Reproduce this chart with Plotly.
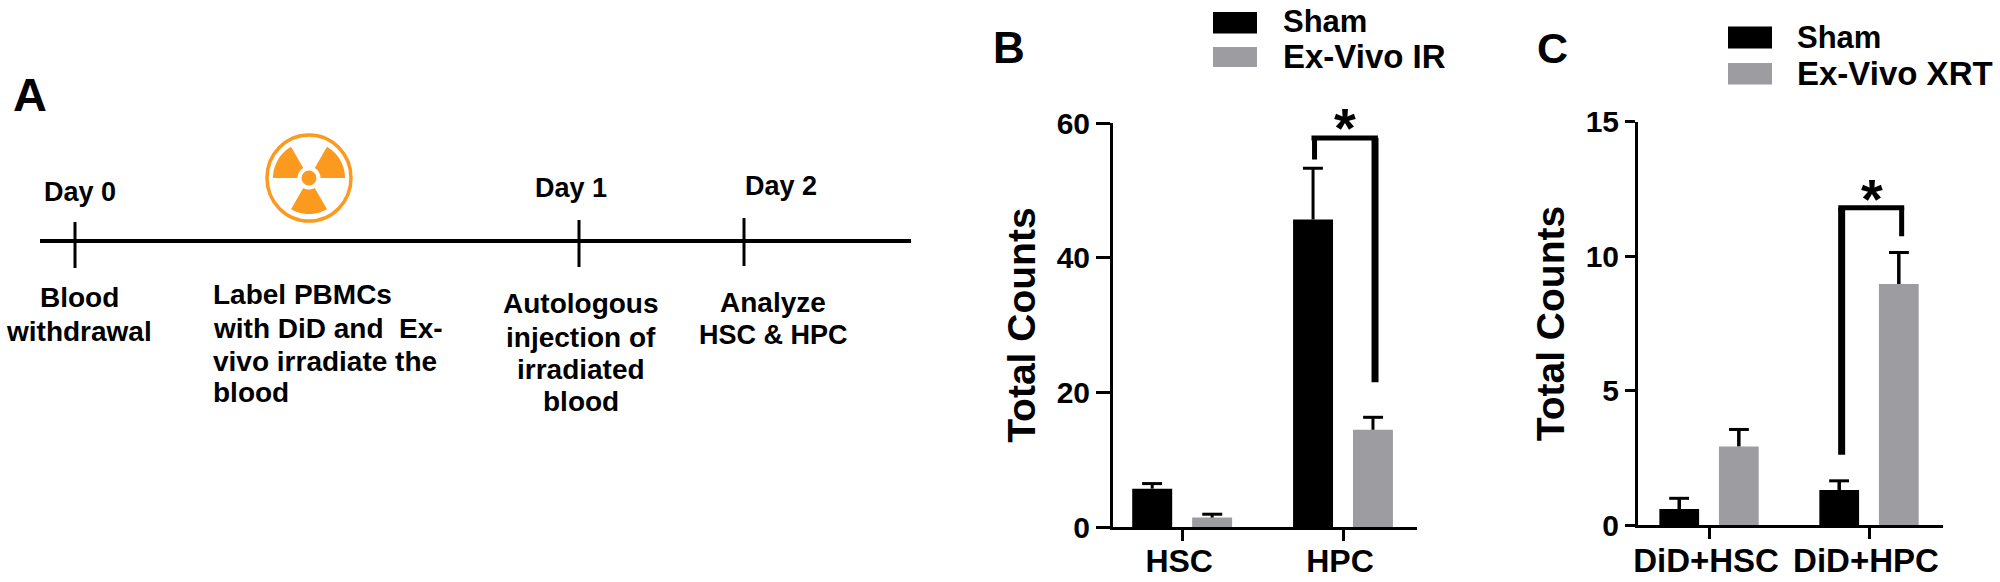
import numpy as np
import plotly.graph_objects as go

W, H = 2000, 582
FONT = "Liberation Sans"
BLACK = "#000000"
GRAY = "#9d9da1"
ORANGE = "#fb9a1f"

# ---- panel B data
b_categories = ["HSC", "HPC"]
b_sham = [5.7, 45.7]
b_sham_err = [0.75, 7.6]
b_ir = [1.4, 14.45]
b_ir_err = [0.5, 1.85]
b_ticks = [0, 20, 40, 60]

# ---- panel C data
c_categories = ["DiD+HSC", "DiD+HPC"]
c_sham = [0.6, 1.31]
c_sham_err = [0.4, 0.34]
c_xrt = [2.93, 8.97]
c_xrt_err = [0.63, 1.17]
c_ticks = [0, 5, 10, 15]

# ---- panel A timeline text: (text, x, y, anchor, size)
timeline_labels = [
    ("Day 0", 80, 192, "center", 27), ("Day 1", 571, 188, "center", 27), ("Day 2", 781, 186, "center", 27),
    ("Blood", 79, 297, "center", 28), ("withdrawal", 79, 331, "center", 28),
    ("Label PBMCs", 211, 294, "left", 28), ("with DiD and  Ex-", 211, 328, "left", 28),
    ("vivo irradiate the", 211, 361, "left", 28), ("blood", 211, 392, "left", 28),
    ("Autologous", 581, 303, "center", 28), ("injection of", 581, 337, "center", 28),
    ("irradiated", 581, 369, "center", 28), ("blood", 581, 401, "center", 28),
    ("Analyze", 773, 302, "center", 28), ("HSC &amp; HPC", 773, 335, "center", 27),
]
timeline_ticks = [(75, 222, 268), (579, 220, 267), (744, 218, 266)]


def px(x):
    return x / W


def py(y):
    return 1 - y / H


fig = go.Figure()
shapes, annos = [], []


def add_bars(cats, name1, v1, e1, name2, v2, e2, xa, ya, thick):
    offset = 0.187
    cap = 0.062
    for name, vals, errs, col, side in ((name1, v1, e1, BLACK, -1), (name2, v2, e2, GRAY, 1)):
        fig.add_trace(go.Bar(
            x=cats, y=vals, name=name, marker=dict(color=col, line=dict(width=0)),
            error_y=dict(type="data", symmetric=False, array=errs, arrayminus=[0, 0],
                         color=BLACK, thickness=thick, width=0),
            xaxis=xa, yaxis=ya, showlegend=False,
        ))
        for i, (v, e) in enumerate(zip(vals, errs)):
            xc = i + side * offset
            shapes.append(dict(type="line", xref=xa, yref=ya, x0=xc - cap, x1=xc + cap,
                               y0=v + e, y1=v + e, line=dict(color=BLACK, width=3)))


add_bars(b_categories, "Sham", b_sham, b_sham_err, "Ex-Vivo IR", b_ir, b_ir_err, "x", "y", 3)
add_bars(c_categories, "Sham", c_sham, c_sham_err, "Ex-Vivo XRT", c_xrt, c_xrt_err, "x2", "y2", 3.5)


def text(t, x, y, size, anchor="center", angle=0):
    annos.append(dict(text=t, x=px(x), y=py(y), xref="paper", yref="paper", showarrow=False,
                      xanchor=anchor, yanchor="middle", textangle=angle,
                      font=dict(family=FONT, size=size, color=BLACK, weight=700)))


def rect(x0, y0, x1, y1, col):
    shapes.append(dict(type="rect", xref="paper", yref="paper", x0=px(x0), x1=px(x1),
                       y0=py(y0), y1=py(y1), fillcolor=col, line=dict(width=0)))


def pline(x0, y0, x1, y1, w, col=BLACK):
    shapes.append(dict(type="line", xref="paper", yref="paper", x0=px(x0), x1=px(x1),
                       y0=py(y0), y1=py(y1), line=dict(color=col, width=w)))


def bracket(xa, ya, xl, xr, xl_edge, xr_edge, top, lb, rb, wl, wr, wt):
    ref = dict(xref=xa, yref=ya, type="line")
    shapes.append(dict(**ref, x0=xl, x1=xl, y0=top, y1=lb, line=dict(color=BLACK, width=wl)))
    shapes.append(dict(**ref, x0=xr, x1=xr, y0=top, y1=rb, line=dict(color=BLACK, width=wr)))
    shapes.append(dict(**ref, x0=xl_edge, x1=xr_edge, y0=top, y1=top, line=dict(color=BLACK, width=wt)))


bracket("x", "y", 0.823, 1.199, 0.804, 1.217, 57.8, 54.6, 21.5, 5, 7, 5)
bracket("x2", "y2", 0.829, 1.204, 0.808, 1.22, 11.8, 2.62, 10.74, 7, 5, 5)

# panel letters
text("A", 30, 95, 47)
text("B", 1009, 47.5, 44)
text("C", 1552, 47.5, 43)

# stars
text("*", 1345, 127, 56)
text("*", 1872, 198, 56)

# legends
rect(1213, 12, 1257, 33.5, BLACK)
rect(1213, 47, 1257, 67, GRAY)
text("Sham", 1281, 22, 31, "left")
text("Ex-Vivo IR", 1281, 56.5, 33, "left")
rect(1728, 26.5, 1772, 48.5, BLACK)
rect(1728, 63, 1772, 84.5, GRAY)
text("Sham", 1795, 37, 31, "left")
text("Ex-Vivo XRT", 1795, 73, 33, "left")

# timeline
pline(40, 241, 911, 241, 4)
for tx, t0, t1 in timeline_ticks:
    pline(tx, t0, tx, t1, 3)
for t, x, y, anchor, size in timeline_labels:
    text(t, x, y, size, anchor)

# radiation icon
cx, cy = 309, 178
shapes.append(dict(type="circle", xref="paper", yref="paper", x0=px(cx - 42), x1=px(cx + 42),
                   y0=py(cy - 43), y1=py(cy + 43), line=dict(color=ORANGE, width=3.5),
                   fillcolor="white"))
shapes.append(dict(type="circle", xref="paper", yref="paper", x0=px(cx - 7.5), x1=px(cx + 7.5),
                   y0=py(cy - 7.5), y1=py(cy + 7.5), line=dict(width=0), fillcolor=ORANGE))
for a0, a1 in ((0, 60), (120, 180), (240, 300)):
    ang = np.radians(np.linspace(a0, a1, 24))
    xo = cx + 36 * np.cos(ang)
    yo = cy - 36 * np.sin(ang)
    xi = cx + 11.5 * np.cos(ang[::-1])
    yi = cy - 11.5 * np.sin(ang[::-1])
    pts = list(zip(np.r_[xo, xi], np.r_[yo, yi]))
    path = "M " + " L ".join(f"{px(a):.5f},{py(b):.5f}" for a, b in pts) + " Z"
    shapes.append(dict(type="path", xref="paper", yref="paper", path=path,
                       fillcolor=ORANGE, line=dict(width=0)))

tickfont_y = dict(family=FONT, size=30, color=BLACK, weight=700)
title_font = dict(family=FONT, size=39, color=BLACK, weight=700)
axis_common = dict(showline=True, linecolor=BLACK, linewidth=3, ticks="outside", tickcolor=BLACK,
                   tickwidth=3, showgrid=False, zeroline=False, automargin=False)

fig.update_layout(
    width=W, height=H, margin=dict(l=0, r=0, t=0, b=0), autosize=False,
    paper_bgcolor="white", plot_bgcolor="white",
    barmode="group", bargap=0.255, bargroupgap=0.333,
    shapes=shapes, annotations=annos,
    xaxis=dict(domain=[px(1113), px(1417)], range=[-0.43, 1.46], anchor="y", ticklen=11,
               ticklabelstandoff=-7, ticklabelshift=-3,
               tickfont=dict(family=FONT, size=32, color=BLACK, weight=700), **axis_common),
    yaxis=dict(domain=[py(527), py(123.2)], range=[0, 60], anchor="x", ticklen=14,
               tickvals=b_ticks, tickfont=tickfont_y,
               title=dict(text="Total Counts", font=title_font, standoff=9), **axis_common),
    xaxis2=dict(domain=[px(1638), px(1943)], range=[-0.444, 1.4625], anchor="y2", ticklen=11,
                ticklabelstandoff=-7, ticklabelshift=-3,
                tickfont=dict(family=FONT, size=33, color=BLACK, weight=700), **axis_common),
    yaxis2=dict(domain=[py(525.2), py(121.8)], range=[0, 15], anchor="x2", ticklen=10,
                tickvals=c_ticks, tickfont=tickfont_y,
                title=dict(text="Total Counts", font=title_font, standoff=9), **axis_common),
)

fig.write_html("out.html", post_script="document.body.style.margin='0';", config={"displayModeBar": False})
